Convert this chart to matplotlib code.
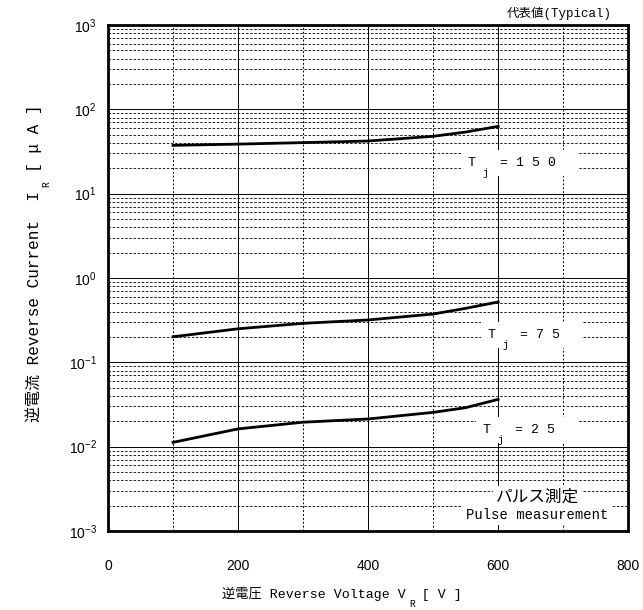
import matplotlib
matplotlib.use('Agg')
import matplotlib.pyplot as plt
import numpy as np
from matplotlib.ticker import LogLocator, MultipleLocator, NullFormatter

plt.rcParams['font.family'] = ['Noto Sans CJK JP', 'DejaVu Sans']
plt.rcParams['mathtext.fontset'] = 'custom'
plt.rcParams['mathtext.rm'] = 'Liberation Sans'
plt.rcParams['axes.unicode_minus'] = False
MONO = ['Liberation Mono', 'Noto Sans CJK JP', 'DejaVu Sans']

# 逆電圧 [V]
vr = [100, 200, 300, 400, 500, 550, 600]
# 逆電流 [uA]
ir_150 = [37.4, 38.7, 40.3, 42.1, 47.9, 53.8, 62.8]
ir_75 = [0.201, 0.25, 0.29, 0.318, 0.374, 0.437, 0.52]
ir_25 = [0.01125, 0.01625, 0.0195, 0.0213, 0.0255, 0.029, 0.0364]

series = [ir_150, ir_75, ir_25]
labels = ['T   = 1 5 0', 'T   = 7 5', 'T   = 2 5']
label_pos = [(554, 23.0), (585, 0.21), (577, 0.0158)]

W, H = 643, 610
fig = plt.figure(figsize=(W / 100, H / 100), dpi=100)
ax = fig.add_axes([0.168, 0.1295, 0.809, 0.8295])

ax.set_xlim(0, 800)
ax.set_ylim(1e-3, 1e3)
ax.set_yscale('log')

ax.xaxis.set_major_locator(MultipleLocator(200))
ax.xaxis.set_minor_locator(MultipleLocator(100))
ax.yaxis.set_major_locator(LogLocator(base=10, numticks=10))
ax.yaxis.set_minor_locator(LogLocator(base=10, subs=np.arange(2, 10), numticks=10))
ax.yaxis.set_minor_formatter(NullFormatter())

ax.grid(which='major', axis='both', color='black', linewidth=0.7, linestyle='-')
ax.grid(which='minor', axis='x', color='black', linewidth=0.7, linestyle=(0, (2, 2)))
ax.grid(which='minor', axis='y', color='black', linewidth=0.6, linestyle=(0, (3, 2)))
ax.set_axisbelow(True)

ax.tick_params(which='both', length=0, labelsize=10, labelfontfamily='Liberation Sans')
ax.tick_params(axis='x', pad=20)
ax.tick_params(axis='y', pad=8)

for sp in ax.spines.values():
    sp.set_linewidth(2)

for vals in series:
    ax.plot(vr, vals, color='black', linewidth=2.0, zorder=3)

for txt, (lx, ly) in zip(labels, label_pos):
    ax.text(lx, ly, txt + '  ', fontsize=9.5, family=MONO, ha='left', va='center', zorder=4,
            bbox=dict(facecolor='white', edgecolor='none', pad=5))
    ax.annotate('j', xy=(lx, ly), xytext=(10, -7), textcoords='offset points',
                fontsize=7, family=MONO, ha='left', va='center', zorder=5)

# パルス測定
ax.text(660, 2.5e-3, 'パルス測定', fontsize=12, ha='center', va='center', zorder=4,
        bbox=dict(facecolor='white', edgecolor='none', pad=2))
ax.text(660, 1.55e-3, 'Pulse measurement', fontsize=10, family=MONO, ha='center', va='center',
        zorder=4, bbox=dict(facecolor='white', edgecolor='none', pad=2))

fig.text(612 / W, 1 - 13 / H, '代表値(Typical)', fontsize=9, family=MONO, ha='right', va='center')

xlab = ax.set_xlabel('逆電圧 Reverse Voltage V  [ V ]', fontsize=9.5, family=MONO)
ylab = ax.set_ylabel('逆電流 Reverse Current  I  [ μ A ]', fontsize=11.5, family=MONO)
ax.xaxis.set_label_coords(0.45, -0.11)
ax.yaxis.set_label_coords(-0.126, 0.53)

# subscripts "R" on the axis labels
fig.canvas.draw()
rend = fig.canvas.get_renderer()


def prefix_width(prefix, size):
    t = fig.text(0, 0, prefix, fontsize=size, family=MONO)
    w = t.get_window_extent(rend).width
    t.remove()
    return w


bx = xlab.get_window_extent(rend)
wx = prefix_width('逆電圧 Reverse Voltage V', 9.5)
fig.text((bx.x0 + wx + 6) / W, (bx.y0 - 3) / H, 'R', fontsize=7, family=MONO,
         ha='center', va='center')

by = ylab.get_window_extent(rend)
wy = prefix_width('逆電流 Reverse Current  I', 11.5)
fig.text((by.x1 + 4) / W, (by.y0 + wy + 7) / H, 'R', fontsize=7, family=MONO,
         ha='center', va='center', rotation=90)

fig.savefig('out.png', dpi=100)
